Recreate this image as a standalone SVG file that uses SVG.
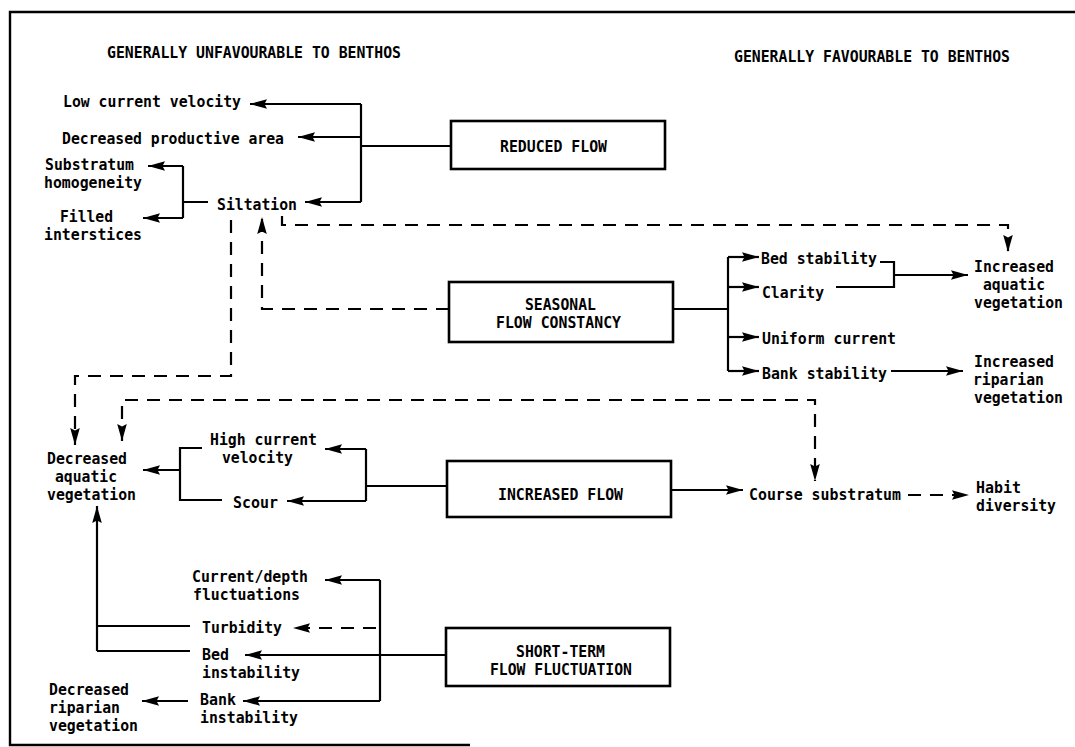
<svg xmlns="http://www.w3.org/2000/svg" width="1075" height="747" viewBox="0 0 1075 747">
  <style>
    .t { font-family: "DejaVu Sans Mono", "Liberation Mono", monospace; font-size: 15px; font-weight: bold; fill: #000; }
    .box { fill: #fff; stroke: #000; stroke-width: 2.6; }
    .ln { fill: none; stroke: #000; stroke-width: 2.2; }
    .ds { fill: none; stroke: #000; stroke-width: 2.2; stroke-dasharray: 13 9; }
    .frame { fill: none; stroke: #000; stroke-width: 2.4; }
  </style>
  <defs>
    <marker id="ah" markerUnits="userSpaceOnUse" markerWidth="18" markerHeight="12" viewBox="0 0 18 12" refX="17" refY="6" orient="auto-start-reverse">
      <path d="M0,1.2 L17,6 L0,10.8 L2.5,6 z" fill="#000"/>
    </marker>
  </defs>

  <rect width="1075" height="747" fill="#fff"/>

  <!-- page frame -->
  <path class="frame" d="M1075,12 H10 V745 H470"/>

  <!-- column headings -->
  <g id="headings">
    <text class="t" x="107" y="58" textLength="294" lengthAdjust="spacingAndGlyphs">GENERALLY UNFAVOURABLE TO BENTHOS</text>
    <text class="t" x="734" y="62" textLength="276" lengthAdjust="spacingAndGlyphs">GENERALLY FAVOURABLE TO BENTHOS</text>
  </g>

  <!-- flow regime boxes -->
  <g id="reduced-flow">
    <rect class="box" x="451" y="121" width="214" height="48"/>
    <text class="t" x="500" y="152" textLength="107" lengthAdjust="spacingAndGlyphs">REDUCED FLOW</text>
  </g>
  <g id="seasonal-flow-constancy">
    <rect class="box" x="449" y="282" width="224" height="60"/>
    <text class="t" x="525" y="310" textLength="71" lengthAdjust="spacingAndGlyphs">SEASONAL</text>
    <text class="t" x="496" y="328" textLength="125" lengthAdjust="spacingAndGlyphs">FLOW CONSTANCY</text>
  </g>
  <g id="increased-flow">
    <rect class="box" x="447" y="461" width="224" height="56"/>
    <text class="t" x="498" y="500" textLength="125" lengthAdjust="spacingAndGlyphs">INCREASED FLOW</text>
  </g>
  <g id="short-term-flow-fluctuation">
    <rect class="box" x="446" y="628" width="224" height="58"/>
    <text class="t" x="516" y="657" textLength="89" lengthAdjust="spacingAndGlyphs">SHORT-TERM</text>
    <text class="t" x="490" y="675" textLength="142" lengthAdjust="spacingAndGlyphs">FLOW FLUCTUATION</text>
  </g>

  <!-- effects, unfavourable side -->
  <g id="low-current-velocity">
    <text class="t" x="63" y="107" textLength="178" lengthAdjust="spacingAndGlyphs">Low current velocity</text>
  </g>
  <g id="decreased-productive-area">
    <text class="t" x="62" y="144" textLength="222" lengthAdjust="spacingAndGlyphs">Decreased productive area</text>
  </g>
  <g id="substratum-homogeneity">
    <text class="t" x="45" y="170" textLength="89" lengthAdjust="spacingAndGlyphs">Substratum</text>
    <text class="t" x="44" y="188" textLength="98" lengthAdjust="spacingAndGlyphs">homogeneity</text>
  </g>
  <g id="siltation">
    <text class="t" x="217" y="210" textLength="80" lengthAdjust="spacingAndGlyphs">Siltation</text>
  </g>
  <g id="filled-interstices">
    <text class="t" x="60" y="222" textLength="53" lengthAdjust="spacingAndGlyphs">Filled</text>
    <text class="t" x="44" y="240" textLength="98" lengthAdjust="spacingAndGlyphs">interstices</text>
  </g>
  <g id="decreased-aquatic-vegetation">
    <text class="t" x="47" y="464" textLength="80" lengthAdjust="spacingAndGlyphs">Decreased</text>
    <text class="t" x="55" y="482" textLength="62" lengthAdjust="spacingAndGlyphs">aquatic</text>
    <text class="t" x="47" y="500" textLength="89" lengthAdjust="spacingAndGlyphs">vegetation</text>
  </g>
  <g id="high-current-velocity">
    <text class="t" x="210" y="445" textLength="107" lengthAdjust="spacingAndGlyphs">High current</text>
    <text class="t" x="222" y="463" textLength="71" lengthAdjust="spacingAndGlyphs">velocity</text>
  </g>
  <g id="scour">
    <text class="t" x="233" y="508" textLength="45" lengthAdjust="spacingAndGlyphs">Scour</text>
  </g>
  <g id="current-depth-fluctuations">
    <text class="t" x="192" y="582" textLength="116" lengthAdjust="spacingAndGlyphs">Current/depth</text>
    <text class="t" x="193" y="600" textLength="107" lengthAdjust="spacingAndGlyphs">fluctuations</text>
  </g>
  <g id="turbidity">
    <text class="t" x="202" y="633" textLength="80" lengthAdjust="spacingAndGlyphs">Turbidity</text>
  </g>
  <g id="bed-instability">
    <text class="t" x="202" y="660" textLength="27" lengthAdjust="spacingAndGlyphs">Bed</text>
    <text class="t" x="202" y="678" textLength="98" lengthAdjust="spacingAndGlyphs">instability</text>
  </g>
  <g id="bank-instability">
    <text class="t" x="200" y="705" textLength="36" lengthAdjust="spacingAndGlyphs">Bank</text>
    <text class="t" x="200" y="723" textLength="98" lengthAdjust="spacingAndGlyphs">instability</text>
  </g>
  <g id="decreased-riparian-vegetation">
    <text class="t" x="49" y="695" textLength="80" lengthAdjust="spacingAndGlyphs">Decreased</text>
    <text class="t" x="49" y="713" textLength="71" lengthAdjust="spacingAndGlyphs">riparian</text>
    <text class="t" x="49" y="731" textLength="89" lengthAdjust="spacingAndGlyphs">vegetation</text>
  </g>

  <!-- effects, favourable side -->
  <g id="bed-stability">
    <text class="t" x="761" y="264" textLength="116" lengthAdjust="spacingAndGlyphs">Bed stability</text>
  </g>
  <g id="clarity">
    <text class="t" x="762" y="298" textLength="62" lengthAdjust="spacingAndGlyphs">Clarity</text>
  </g>
  <g id="uniform-current">
    <text class="t" x="762" y="344" textLength="134" lengthAdjust="spacingAndGlyphs">Uniform current</text>
  </g>
  <g id="bank-stability">
    <text class="t" x="762" y="379" textLength="125" lengthAdjust="spacingAndGlyphs">Bank stability</text>
  </g>
  <g id="increased-aquatic-vegetation">
    <text class="t" x="974" y="272" textLength="80" lengthAdjust="spacingAndGlyphs">Increased</text>
    <text class="t" x="983" y="290" textLength="62" lengthAdjust="spacingAndGlyphs">aquatic</text>
    <text class="t" x="974" y="308" textLength="89" lengthAdjust="spacingAndGlyphs">vegetation</text>
  </g>
  <g id="increased-riparian-vegetation">
    <text class="t" x="974" y="367" textLength="80" lengthAdjust="spacingAndGlyphs">Increased</text>
    <text class="t" x="973" y="385" textLength="71" lengthAdjust="spacingAndGlyphs">riparian</text>
    <text class="t" x="974" y="403" textLength="89" lengthAdjust="spacingAndGlyphs">vegetation</text>
  </g>
  <g id="course-substratum">
    <text class="t" x="749" y="500" textLength="152" lengthAdjust="spacingAndGlyphs">Course substratum</text>
  </g>
  <g id="habit-diversity">
    <text class="t" x="976" y="493" textLength="45" lengthAdjust="spacingAndGlyphs">Habit</text>
    <text class="t" x="976" y="511" textLength="80" lengthAdjust="spacingAndGlyphs">diversity</text>
  </g>

  <!-- connectors -->
  <g id="connectors">
    <!-- reduced flow -->
    <path class="ln" d="M451,146 H361 M361,104 V202"/>
    <path class="ln" d="M361,104 H250" marker-end="url(#ah)"/>
    <path class="ln" d="M361,137 H298" marker-end="url(#ah)"/>
    <path class="ln" d="M361,202 H305" marker-end="url(#ah)"/>
    <!-- siltation consequences -->
    <path class="ln" d="M208,202 H183 M183,166 V218"/>
    <path class="ln" d="M183,166 H148" marker-end="url(#ah)"/>
    <path class="ln" d="M183,218 H143" marker-end="url(#ah)"/>
    <!-- dashed links -->
    <path class="ds" d="M231,220 V376 H75 V445" marker-end="url(#ah)"/>
    <path class="ds" d="M449,309 H262 V217" marker-end="url(#ah)"/>
    <path class="ds" d="M282,216 V225 H1008 V252" marker-end="url(#ah)"/>
    <path class="ds" d="M122,441 V400 H815 V481" marker-start="url(#ah)" marker-end="url(#ah)"/>
    <!-- seasonal flow constancy -->
    <path class="ln" d="M673,309 H728 M728,257 V371"/>
    <path class="ln" d="M728,257 H759" marker-end="url(#ah)"/>
    <path class="ln" d="M728,287 H759" marker-end="url(#ah)"/>
    <path class="ln" d="M728,337 H759" marker-end="url(#ah)"/>
    <path class="ln" d="M728,371 H759" marker-end="url(#ah)"/>
    <path class="ln" d="M880,262 H894 V287 H836"/>
    <path class="ln" d="M894,275 H968" marker-end="url(#ah)"/>
    <path class="ln" d="M891,371 H963" marker-end="url(#ah)"/>
    <!-- increased flow -->
    <path class="ln" d="M447,486 H366 M366,449 V501"/>
    <path class="ln" d="M366,449 H325" marker-end="url(#ah)"/>
    <path class="ln" d="M366,501 H287" marker-end="url(#ah)"/>
    <path class="ln" d="M202,448 H180 V500 H222"/>
    <path class="ln" d="M180,470 H143" marker-end="url(#ah)"/>
    <path class="ln" d="M671,490 H743" marker-end="url(#ah)"/>
    <path class="ds" d="M908,495 H969" marker-end="url(#ah)"/>
    <!-- short-term flow fluctuation -->
    <path class="ln" d="M446,655 H245" marker-end="url(#ah)"/>
    <path class="ln" d="M380,580 V701"/>
    <path class="ln" d="M380,580 H325" marker-end="url(#ah)"/>
    <path class="ln" d="M380,701 H243" marker-end="url(#ah)"/>
    <path class="ds" d="M376,628 H293" marker-end="url(#ah)"/>
    <path class="ln" d="M190,626 H97 M190,651 H97"/>
    <path class="ln" d="M97,651 V506" marker-end="url(#ah)"/>
    <path class="ln" d="M188,701 H142" marker-end="url(#ah)"/>
  </g>
</svg>
